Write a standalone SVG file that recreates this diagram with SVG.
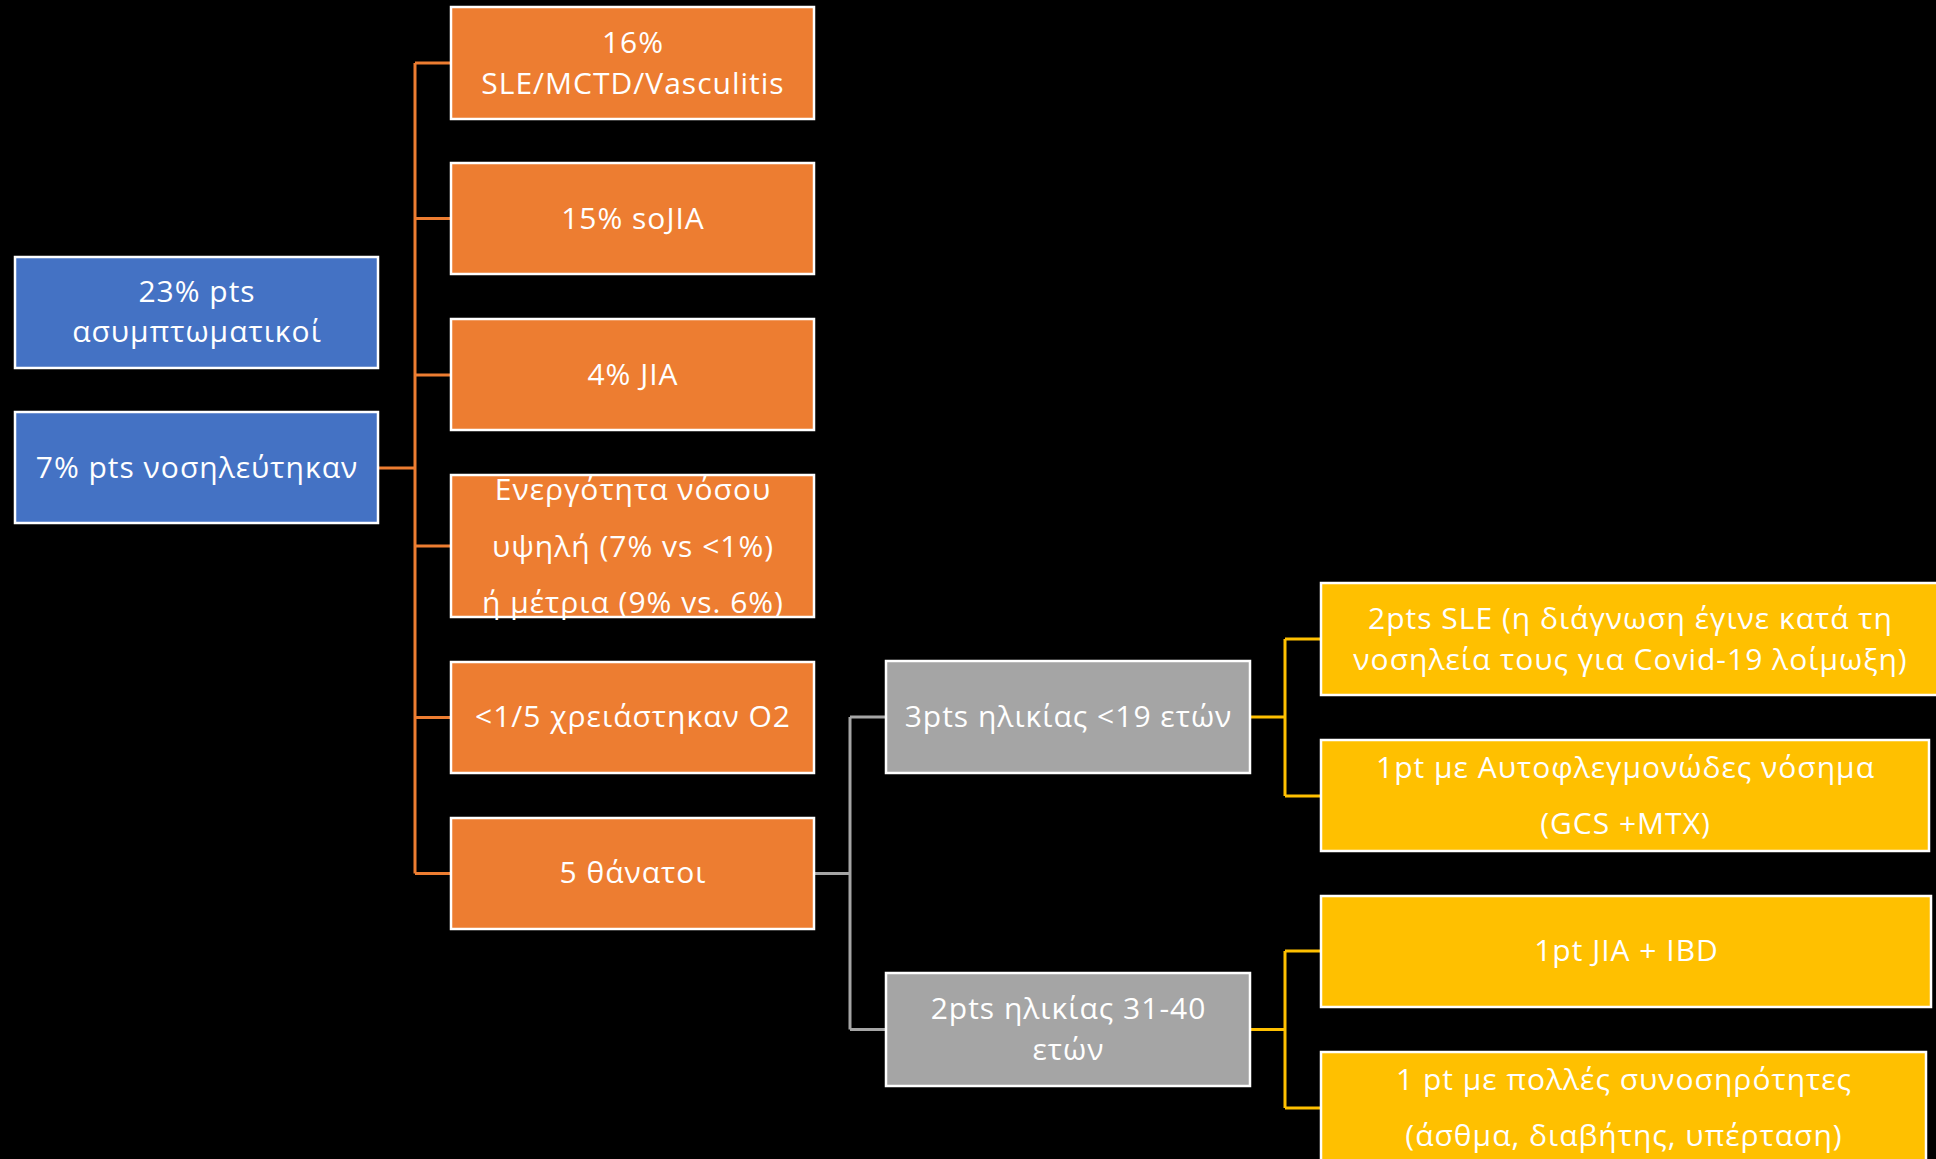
<svg xmlns="http://www.w3.org/2000/svg" width="1936" height="1159" viewBox="0 0 1936 1159">
<style>
.box{stroke:#FFFFFF;stroke-width:2.5}
.blue{fill:#4472C4}
.orange{fill:#ED7D31}
.gray{fill:#A5A5A5}
.yellow{fill:#FFC000}
.t{font-family:"Open Sans","Noto Sans","DejaVu Sans",sans-serif;font-size:30px;letter-spacing:1px;fill:#FFFFFF;text-anchor:middle}
.c{fill:none;stroke-width:3}
</style>
<rect width="1936" height="1159" fill="#000000"/>
<g id="connectors">
<path class="c" stroke="#ED7D31" d="M378,468 H415 M415,63 V873.5 M415,63 H451 M415,218.5 H451 M415,375 H451 M415,546 H451 M415,717.5 H451 M415,873.5 H451"/>
<path class="c" stroke="#A5A5A5" d="M814,873.5 H850 M850,717 V1029.5 M850,717 H886 M850,1029.5 H886"/>
<path class="c" stroke="#FFC000" d="M1250,717 H1285 M1285,639 V796 M1285,639 H1321 M1285,796 H1321 M1250,1029.5 H1285 M1285,951 V1108 M1285,951 H1321 M1285,1108 H1321"/>
</g>
<g id="n1"><rect class="box blue" x="15" y="257" width="363" height="111"/><text class="t" x="197" y="302">23% pts</text><text class="t" x="197" y="342">ασυμπτωματικοί</text></g>
<g id="n2"><rect class="box blue" x="15" y="412" width="363" height="111"/><text class="t" x="197" y="478">7% pts νοσηλεύτηκαν</text></g>
<g id="n3"><rect class="box orange" x="451" y="7" width="363" height="112"/><text class="t" x="633" y="53">16%</text><text class="t" x="633" y="94">SLE/MCTD/Vasculitis</text></g>
<g id="n4"><rect class="box orange" x="451" y="163" width="363" height="111"/><text class="t" x="633" y="228.5">15% soJIA</text></g>
<g id="n5"><rect class="box orange" x="451" y="319" width="363" height="111"/><text class="t" x="633" y="385">4% JIA</text></g>
<g id="n6"><rect class="box orange" x="451" y="475" width="363" height="142"/><text class="t" x="633" y="500">Ενεργότητα νόσου</text><text class="t" x="633" y="556.5">υψηλή (7% vs &lt;1%)</text><text class="t" x="633" y="613">ή μέτρια (9% vs. 6%)</text></g>
<g id="n7"><rect class="box orange" x="451" y="662" width="363" height="111"/><text class="t" x="633" y="727">&lt;1/5 χρειάστηκαν Ο2</text></g>
<g id="n8"><rect class="box orange" x="451" y="818" width="363" height="111"/><text class="t" x="633" y="883">5 θάνατοι</text></g>
<g id="n9"><rect class="box gray" x="886" y="661" width="364" height="112"/><text class="t" x="1068.5" y="727">3pts ηλικίας &lt;19 ετών</text></g>
<g id="n10"><rect class="box gray" x="886" y="973" width="364" height="113"/><text class="t" x="1068.5" y="1019">2pts ηλικίας 31-40</text><text class="t" x="1068.5" y="1060">ετών</text></g>
<g id="n11"><rect class="box yellow" x="1321" y="583" width="619" height="112"/><text class="t" x="1630.5" y="629">2pts SLE (η διάγνωση έγινε κατά τη</text><text class="t" x="1630.5" y="670">νοσηλεία τους για Covid-19 λοίμωξη)</text></g>
<g id="n12"><rect class="box yellow" x="1321" y="740" width="608" height="111"/><text class="t" x="1625.5" y="778">1pt με Αυτοφλεγμονώδες νόσημα</text><text class="t" x="1625.5" y="834">(GCS +MTX)</text></g>
<g id="n13"><rect class="box yellow" x="1321" y="896" width="610" height="111"/><text class="t" x="1626.5" y="961">1pt JIA + IBD</text></g>
<g id="n14"><rect class="box yellow" x="1321" y="1052" width="605" height="115"/><text class="t" x="1624" y="1090">1 pt με πολλές συνοσηρότητες</text><text class="t" x="1624" y="1146">(άσθμα, διαβήτης, υπέρταση)</text></g>
</svg>
